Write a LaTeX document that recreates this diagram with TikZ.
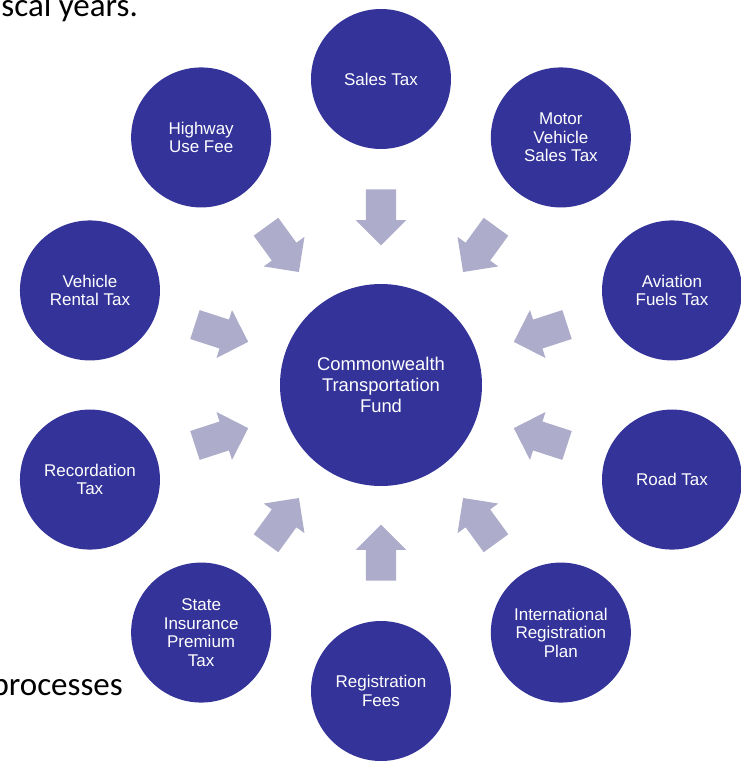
\documentclass[tikz,border=0pt]{standalone}
\usepackage{fontspec}
\setmainfont{Liberation Sans}
\newfontfamily\pagefont{Carlito}
\usetikzlibrary{shapes.arrows,calc}
\definecolor{source}{HTML}{333399}
\definecolor{flow}{HTML}{ADADCB}

\begin{document}
\begin{tikzpicture}[x=1pt,y=1pt,
src/.style={circle,fill=source,text=white,minimum size=140pt,inner sep=0pt,align=center,font=\fontsize{17}{18.5}\selectfont},
hub/.style={src,minimum size=202pt,font=\fontsize{18.4}{20.7}\selectfont},
feed/.style={single arrow,fill=flow,minimum height=56pt,single arrow head extend=10pt,inner xsep=0pt,inner ysep=15pt},
page/.style={font=\pagefont\fontsize{33}{36}\selectfont,anchor=base east,inner sep=0pt}]
\useasboundingbox (-381,-376) rectangle (360,385);
% text of the page behind the figure
\node[page] (yrs) at (-243,368) {scal years.};
\node[page] (proc) at (-258,-310) {processes};
% fund and its sources
\node[hub] (fund) at (0,0) {Commonwealth\\Transportation\\Fund};
\node[src] (sales) at (90:306) {Sales Tax};
\node[src] (mvst) at (54:306) {Motor\\Vehicle\\Sales Tax};
\node[src] (avia) at (18:306) {Aviation\\Fuels Tax};
\node[src] (road) at (-18:306) {Road Tax};
\node[src] (irp) at (-54:306) {International\\Registration\\Plan};
\node[src] (regf) at (-90:306) {Registration\\Fees};
\node[src] (insur) at (-126:306) {State\\Insurance\\Premium\\Tax};
\node[src] (recd) at (198:306) {Recordation\\Tax};
\node[src] (rent) at (162:306) {Vehicle\\Rental Tax};
\node[src] (hwy) at (126:306) {Highway\\Use Fee};
% block arrows into the fund
\node[feed,rotate=270] (in-sales) at ($(fund.90)!.55!(sales.270)$) {};
\node[feed,rotate=234] (in-mvst) at ($(fund.54)!.55!(mvst.234)$) {};
\node[feed,rotate=198] (in-avia) at ($(fund.18)!.55!(avia.198)$) {};
\node[feed,rotate=162] (in-road) at ($(fund.342)!.55!(road.162)$) {};
\node[feed,rotate=126] (in-irp) at ($(fund.306)!.55!(irp.126)$) {};
\node[feed,rotate=90] (in-regf) at ($(fund.270)!.55!(regf.90)$) {};
\node[feed,rotate=54] (in-insur) at ($(fund.234)!.55!(insur.54)$) {};
\node[feed,rotate=18] (in-recd) at ($(fund.198)!.55!(recd.18)$) {};
\node[feed,rotate=342] (in-rent) at ($(fund.162)!.55!(rent.342)$) {};
\node[feed,rotate=306] (in-hwy) at ($(fund.126)!.55!(hwy.306)$) {};
\end{tikzpicture}
\end{document}
